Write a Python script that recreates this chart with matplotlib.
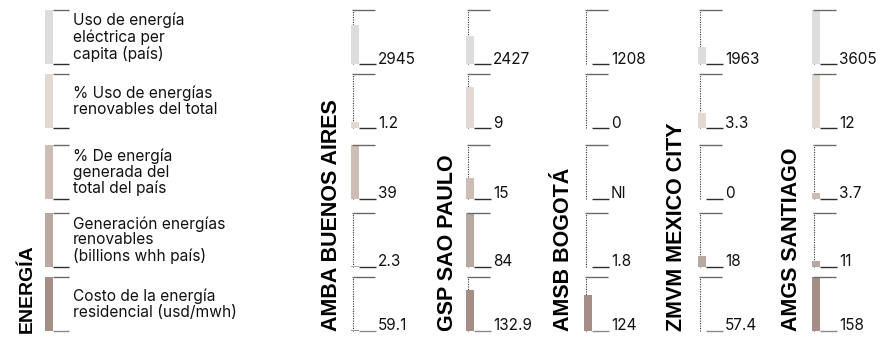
import numpy as np
import matplotlib
matplotlib.use("Agg")
import matplotlib.pyplot as plt

# ---- data -------------------------------------------------------------
cities = ["AMBA BUENOS AIRES", "GSP SAO PAULO", "AMSB BOGOTÁ",
          "ZMVM MEXICO CITY", "AMGS SANTIAGO"]

metrics = [
    "Uso de energía\neléctrica per\ncapita (país)",
    "% Uso de energías\nrenovables del total",
    "% De energía\ngenerada del\ntotal del país",
    "Generación energías\nrenovables\n(billions whh país)",
    "Costo de la energía\nresidencial (usd/mwh)",
]

uso_electrica = [2945, 2427, 1208, 1963, 3605]
uso_renovables = [1.2, 9, 0, 3.3, 12]
energia_generada = [39, 15, np.nan, 0, 3.7]   # NaN -> "NI"
generacion_renov = [2.3, 84, 1.8, 18, 11]
costo_energia = [59.1, 132.9, 124, 57.4, 158]

rows = [uso_electrica, uso_renovables, energia_generada,
        generacion_renov, costo_energia]

section_title = "ENERGÍA"

# ---- styling ----------------------------------------------------------
row_colors = ["#dddddd", "#e3d9d2", "#cebdb4", "#b9a89f", "#a48e85"]
W, H = 884, 337
row_tops = [10, 74, 145, 213, 277]
row_h = 53.5
col_left = [351, 466, 584, 698, 812]
label_right = [337, 453, 569, 682, 797]
legend_left = 45
bar_w = 7.5

text_font = ["Inter", "DejaVu Sans"]
bold_font = ["Liberation Sans", "DejaVu Sans"]

fig = plt.figure(figsize=(W / 100, H / 100), dpi=100)
fig.patch.set_facecolor("white")


def px_axes(x0, top, w, h):
    ax = fig.add_axes([x0 / W, 1 - (top + h) / H, w / W, h / H])
    ax.set_axis_off()
    return ax


def fmt(v):
    return "NI" if np.isnan(v) else f"{v:g}"


top_color = "#6a6a6a"
bot_color = "#2e2e2e"

for r, vals in enumerate(rows):
    vals = np.asarray(vals, dtype=float)
    lo, hi = np.nanmin(vals), np.nanmax(vals)
    bcol = "#8a8a8a" if r == len(rows) - 1 else bot_color

    # legend swatch + row description
    lax = px_axes(legend_left, row_tops[r], 24, row_h)
    lax.set_xlim(0, 24)
    lax.set_ylim(lo, hi)
    lax.bar(0, hi - lo, bottom=lo, width=bar_w + 0.5, align="edge",
            color=row_colors[r], clip_on=False, zorder=2)
    lax.plot([bar_w, 24], [hi, hi], color=top_color, lw=1.0,
             clip_on=False, solid_capstyle="butt")
    lax.plot([bar_w, 24], [lo, lo], color=bcol, lw=1.0,
             clip_on=False, solid_capstyle="butt")
    fig.text(73 / W, 1 - (row_tops[r] + row_h / 2 + 0.5) / H, metrics[r],
             ha="left", va="center", fontsize=11.2, family=text_font,
             linespacing=1.08, color="#111111")

    for c, v in enumerate(vals):
        ax = px_axes(col_left[c], row_tops[r], 25, row_h)
        ax.set_xlim(0, 25)
        ax.set_ylim(lo, hi)
        # dotted guide along the full range
        ax.plot([1.5, 1.5], [lo, hi], color="#333333", lw=0.8,
                ls=(0, (1, 1.2)), clip_on=False, zorder=1)
        if not np.isnan(v) and v > lo:
            ax.bar(0, v - lo, bottom=lo, width=bar_w, align="edge",
                   color=row_colors[r], clip_on=False, zorder=2)
        ax.plot([1.0, 24], [hi, hi], color=top_color, lw=1.0,
                clip_on=False, solid_capstyle="butt", zorder=3)
        ax.plot([bar_w, 25], [lo, lo], color=bcol, lw=1.0,
                clip_on=False, solid_capstyle="butt", zorder=3)
        ax.text(27, lo, fmt(v), ha="left", va="baseline",
                fontsize=11, family=text_font, color="#111111",
                clip_on=False)

# column headers (rotated)
for c, name in enumerate(cities):
    fig.text(label_right[c] / W, 1 - 331 / H, name, rotation=90,
             rotation_mode="anchor", ha="left", va="baseline",
             fontsize=15.5, fontweight="bold", family=bold_font,
             color="black")

fig.text(32 / W, 1 - 333 / H, section_title, rotation=90,
         rotation_mode="anchor", ha="left", va="baseline",
         fontsize=14, fontweight="bold", family=bold_font, color="black")

fig.savefig("out.png", dpi=100, facecolor="white")
